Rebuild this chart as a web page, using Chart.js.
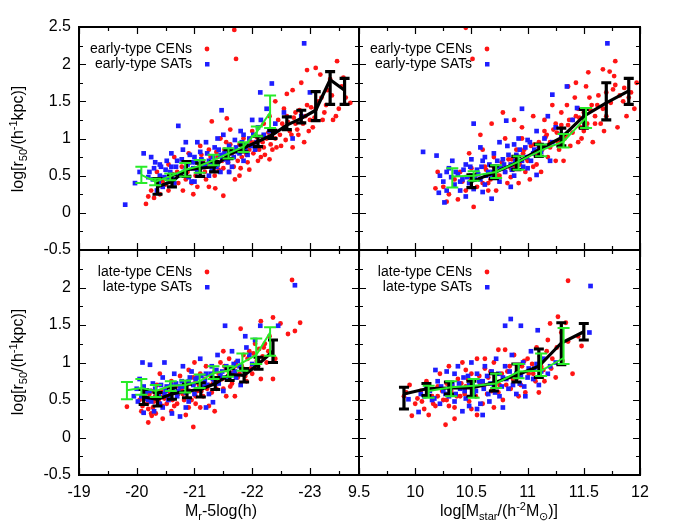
<!DOCTYPE html>
<html>
<head>
<meta charset="utf-8">
<script src="https://cdn.jsdelivr.net/npm/chart.js@4.4.0/dist/chart.umd.min.js"></script>
<style>
  html, body { margin: 0; padding: 0; background: #fff; }
  #wrap { position: relative; width: 680px; height: 531px; font-family: "Liberation Sans", Arial, sans-serif; color: #000; }
  #wrap canvas { position: absolute; left: 0; top: 0; }
  .atitle { position: absolute; font-size: 16px; line-height: 1; white-space: nowrap; transform: translate(-50%, -50%); }
  .atitle.rot { transform: translate(-50%, -50%) rotate(-90deg); }
  .atitle sub, .atitle sup { font-size: 11px; line-height: 0; }
</style>
</head>
<body>
<div id="wrap">
  <canvas id="c1" width="680" height="531"></canvas>
  <canvas id="c2" width="680" height="531"></canvas>
  <canvas id="c3" width="680" height="531"></canvas>
  <canvas id="c4" width="680" height="531"></canvas>
  <div class="atitle rot" style="left:18px; top:139px;">log[r<sub>50</sub>/(h<sup>-1</sup>kpc)]</div>
  <div class="atitle rot" style="left:18px; top:362px;">log[r<sub>50</sub>/(h<sup>-1</sup>kpc)]</div>
  <div class="atitle" style="left:221px; top:511px;">M<sub>r</sub>-5log(h)</div>
  <div class="atitle" style="left:499px; top:511px;">log[M<sub>star</sub>/(h<sup>-2</sup>M<sub>&#8857;</sub>)]</div>
</div>
<script>
// ---------- axes / ticks ----------
const yTicks = [-0.5, 0, 0.5, 1, 1.5, 2, 2.5];
const yMinor = [-0.25, 0.25, 0.75, 1.25, 1.75, 2.25];
const magTicks = [-19, -20, -21, -22, -23];
const magMinor = [-19.5, -20.5, -21.5, -22.5, -23.5];
const massTicks = [9.5, 10, 10.5, 11, 11.5, 12];
const massMinor = [9.75, 10.25, 10.75, 11.25, 11.75];
const magRange = [-23.85, -19];
const massRange = [9.5, 12];
const yRange = [-0.5, 2.5];

// ---------- early-type, magnitude (top left) ----------
const earlyCenMag = [
  [-21.69,2.46],[-21.72,2.07],[-23.47,2.04],[-23.18,1.86],[-22.95,1.92],[-23.10,1.95],[-23.35,1.80],[-23.55,1.70],
  [-23.62,1.55],[-23.50,1.40],[-23.70,1.48],[-23.40,1.25],[-23.25,1.35],[-23.05,1.15],[-22.85,1.75],[-22.70,1.65],
  [-22.60,1.60],[-22.95,1.45],[-22.75,1.35],[-22.55,1.40],[-22.40,1.50],[-22.45,1.25],[-22.30,1.30],[-22.20,1.20],
  [-22.65,1.10],[-22.90,0.95],[-22.50,0.90],[-22.35,0.85],[-22.15,0.75],[-22.00,1.10],[-21.95,0.85],[-21.80,0.60],
  [-21.70,0.45],[-21.55,0.95],[-21.45,1.00],[-21.30,1.23],[-21.56,1.27],[-21.50,0.60],[-21.35,0.50],[-21.20,0.45],
  [-21.36,0.33],[-21.05,0.35],[-20.90,0.80],[-20.95,0.40],[-20.80,0.30],[-20.70,0.55],[-20.55,0.30],[-20.45,0.42],
  [-20.40,0.25],[-20.30,0.20],[-20.25,0.30],[-20.35,0.55],[-20.55,0.65],[-20.65,0.75],[-20.85,0.45],[-21.00,0.60],
  [-21.15,0.70],[-21.25,0.85],[-21.40,0.75],[-21.65,0.80],[-21.75,0.70],[-21.85,1.00],[-22.05,0.95],[-22.10,0.70],
  [-22.25,1.00],[-22.40,1.00],[-22.55,1.15],[-22.75,1.20],[-22.80,1.05],[-23.00,1.25],[-23.20,1.55],[-23.30,1.65],
  [-20.16,0.12],[-20.20,0.22],[-20.60,0.45],[-21.10,0.90],[-21.60,0.55],[-21.90,0.78],[-22.20,0.88],[-22.60,1.30],
  [-23.10,1.40],[-21.78,0.50],[-21.50,0.23],
  [-20.50,0.38],[-20.62,0.52],[-20.72,0.40],[-20.78,0.62],[-20.88,0.55],[-20.92,0.68],[-21.02,0.50],[-21.08,0.62],
  [-21.12,0.78],[-21.18,0.55],[-21.22,0.65],[-21.28,0.75],[-21.32,0.62],[-21.38,0.82],[-21.42,0.58],[-21.48,0.70],
  [-21.52,0.85],[-21.58,0.68],[-21.62,0.92],[-21.68,0.62],[-21.72,0.85],[-21.78,0.92],[-21.82,0.75],[-21.88,0.88],
  [-21.92,0.68],[-21.98,0.95],[-22.02,0.80],[-22.08,1.02],[-22.12,0.85],[-22.18,0.95],[-22.22,0.78],[-22.28,1.08],
  [-22.32,0.92],[-22.38,1.12],[-22.42,0.88],[-22.48,1.05],[-22.52,1.20],[-22.58,0.98],[-22.62,1.22],[-22.68,1.05],
  [-22.72,1.28],[-22.78,1.12],[-22.82,1.38],[-22.88,1.20],[-22.92,1.30],[-22.98,1.10],[-23.02,1.42],[-23.08,1.28],
  [-23.15,1.50],[-23.22,1.25],[-23.28,1.45],[-23.38,1.58],[-23.45,1.30],[-23.58,1.82],[-21.95,0.58],[-22.30,0.72],
  [-21.25,0.35],[-20.98,0.25],[-22.70,0.88],[-21.62,1.12]
];
const earlySatMag = [
  [-22.90,2.28],[-22.34,1.74],[-22.14,1.62],[-21.47,1.38],[-20.72,1.17],[-20.12,0.80],[-19.80,0.11],[-19.97,0.40],
  [-20.05,0.55],[-20.20,0.48],[-20.30,0.60],[-20.40,0.50],[-20.45,0.35],[-20.50,0.58],[-20.60,0.62],[-20.65,0.40],
  [-20.70,0.70],[-20.75,0.52],[-20.80,0.85],[-20.85,0.60],[-20.90,0.48],[-20.95,0.68],[-21.00,0.75],[-21.05,0.55],
  [-21.10,0.82],[-21.15,0.62],[-21.20,0.95],[-21.25,0.70],[-21.30,0.58],[-21.35,0.88],[-21.40,0.65],[-21.45,0.78],
  [-21.50,1.05],[-21.55,0.72],[-21.60,0.90],[-21.65,0.62],[-21.70,0.98],[-21.75,0.82],[-21.80,1.10],[-21.85,0.70],
  [-21.90,0.92],[-21.95,1.00],[-22.00,1.25],[-22.05,0.85],[-22.10,1.15],[-22.20,1.05],[-22.25,1.40],[-22.40,1.20],
  [-22.55,1.35],[-22.70,1.00],[-22.85,1.30],[-23.00,1.62],[-20.35,0.30],[-20.55,0.45],[-21.00,0.42],[-21.25,0.50],
  [-21.60,0.55],[-20.25,0.75],[-20.85,0.95],[-21.40,1.00],
  [-20.22,0.55],[-20.28,0.45],[-20.32,0.68],[-20.38,0.40],[-20.42,0.62],[-20.48,0.48],[-20.52,0.70],[-20.58,0.55],
  [-20.62,0.45],[-20.68,0.62],[-20.72,0.50],[-20.78,0.72],[-20.82,0.55],[-20.88,0.65],[-20.92,0.78],[-20.98,0.60],
  [-21.02,0.68],[-21.08,0.58],[-21.12,0.72],[-21.18,0.65],[-21.22,0.80],[-21.28,0.68],[-21.32,0.75],[-21.38,0.62],
  [-21.42,0.85],[-21.48,0.72],[-21.52,0.80],[-21.58,0.68],[-21.62,0.85],[-21.68,0.75],[-21.72,0.88],[-21.78,0.80],
  [-21.82,0.95],[-21.88,0.85],[-21.92,0.78],[-21.98,0.90],[-22.02,1.05],[-22.08,0.95],[-22.15,1.25],[-22.30,1.10],
  [-20.60,0.80],[-21.05,0.95],[-21.45,0.55],[-20.95,0.42],[-20.40,0.65],[-21.85,1.05]
];
const earlyCenMagBin = [-20.36,-20.61,-20.86,-21.10,-21.34,-21.59,-21.85,-22.10,-22.35,-22.60,-22.85,-23.10,-23.35,-23.60];
const earlyCenMagMed = [0.35,0.42,0.58,0.60,0.62,0.78,0.87,0.96,1.05,1.18,1.27,1.38,1.79,1.65];
const earlyCenMagHi  = [0.46,0.51,0.69,0.67,0.69,0.85,0.91,1.03,1.11,1.29,1.38,1.63,1.90,1.81];
const earlyCenMagLo  = [0.25,0.35,0.49,0.49,0.55,0.73,0.82,0.89,1.00,1.12,1.21,1.24,1.46,1.46];
const earlySatMagBin = [-20.08,-20.32,-20.58,-20.84,-21.09,-21.33,-21.59,-21.85,-22.08,-22.31];
const earlySatMagMed = [0.51,0.42,0.49,0.58,0.63,0.71,0.80,0.89,1.09,1.35];
const earlySatMagHi  = [0.62,0.46,0.53,0.67,0.71,0.78,0.87,0.95,1.16,1.58];
const earlySatMagLo  = [0.40,0.37,0.44,0.49,0.54,0.64,0.73,0.82,1.03,1.14];

// ---------- early-type, stellar mass (top right) ----------
const earlyCenMass = [
  [10.45,2.49],[10.51,2.07],[11.78,2.04],[11.67,1.93],[11.73,1.90],[11.54,1.89],[11.43,1.75],[11.36,1.70],
  [11.77,1.84],[11.76,1.66],[11.85,1.50],[11.95,1.40],[11.88,1.30],[11.70,1.30],[11.62,1.45],[11.55,1.55],
  [11.60,1.20],[11.50,1.10],[11.45,1.40],[11.40,1.25],[11.35,1.05],[11.30,1.35],[11.25,1.20],[11.20,0.95],
  [11.15,1.10],[11.10,0.80],[11.05,1.30],[11.00,0.70],[10.95,1.15],[10.90,0.85],[10.85,0.60],[10.80,1.00],
  [10.75,0.50],[10.70,0.75],[10.65,0.40],[10.60,0.85],[10.55,0.35],[10.50,0.60],[10.45,0.30],[10.40,0.55],
  [10.35,0.45],[10.30,0.25],[10.25,0.35],[10.20,0.55],[10.18,0.33],[10.28,0.15],[10.38,0.18],[10.52,0.08],
  [10.48,0.80],[10.62,0.62],[10.72,0.30],[10.82,0.40],[10.88,0.62],[10.98,0.55],[11.08,0.65],[11.18,0.75],
  [11.28,0.85],[11.38,0.90],[11.48,1.00],[11.58,0.95],[11.68,1.10],[11.80,1.15],[11.90,1.55],[10.58,1.05],
  [10.68,1.20],[10.78,1.35],[10.88,1.25],[10.92,0.40],[11.02,0.45],[11.12,0.55],[11.22,1.45],[11.32,0.70],
  [11.42,1.55],[11.52,1.70],[10.66,0.52],[10.76,0.62],[10.86,0.72],[10.96,0.80],[11.06,0.92],[11.16,1.02],
  [11.26,1.08],[11.36,1.18],[11.46,1.28],[11.56,1.38],
  [10.42,0.42],[10.50,0.45],[10.55,0.52],[10.60,0.40],[10.63,0.58],[10.67,0.45],[10.70,0.62],[10.73,0.50],
  [10.77,0.68],[10.80,0.55],[10.83,0.72],[10.87,0.58],[10.90,0.75],[10.93,0.65],[10.97,0.85],[11.00,0.72],
  [11.03,0.90],[11.07,0.78],[11.10,0.95],[11.13,0.85],[11.17,1.05],[11.20,0.88],[11.23,1.12],[11.27,0.95],
  [11.30,1.18],[11.33,1.00],[11.37,1.25],[11.40,1.08],[11.43,1.30],[11.47,1.15],[11.50,1.35],[11.53,1.20],
  [11.57,1.45],[11.60,1.30],[11.63,1.58],[11.67,1.40],[11.70,1.62],[11.74,1.48],[11.78,1.72],[11.82,1.58],
  [11.86,1.68],[11.92,1.62],[11.97,1.75],[11.65,1.20],[11.45,0.95],[11.25,0.70],[11.05,0.62],[10.85,0.48],
  [10.65,0.30],[11.15,1.25],[11.35,1.45],[10.95,1.00]
];
const earlySatMass = [
  [11.71,2.28],[10.07,0.82],[10.19,0.77],[10.21,0.27],[10.26,0.14],[10.52,1.20],[10.81,1.24],[10.95,1.40],
  [11.22,1.59],[11.35,1.70],[11.44,1.41],[10.68,0.19],[11.08,0.51],[10.22,0.50],[10.25,0.42],[10.30,0.60],
  [10.35,0.38],[10.38,0.52],[10.42,0.45],[10.45,0.65],[10.48,0.40],[10.50,0.50],[10.52,0.32],[10.55,0.58],
  [10.58,0.45],[10.60,0.70],[10.62,0.38],[10.65,0.55],[10.68,0.48],[10.70,0.80],[10.72,0.62],[10.75,0.42],
  [10.78,0.72],[10.80,0.55],[10.82,0.90],[10.85,0.65],[10.88,0.50],[10.90,0.78],[10.92,1.00],[10.95,0.70],
  [10.98,0.88],[11.00,0.60],[11.02,0.95],[11.05,0.80],[11.08,1.10],[11.10,0.90],[11.15,1.00],[11.18,1.30],
  [11.25,1.15],[11.30,1.05],[11.40,1.25],[10.40,0.30],[10.60,0.28],[10.85,0.35],[10.33,0.70],[10.58,0.88],
  [11.20,0.70],[10.28,0.30],[10.45,0.22],[10.75,0.95],
  [10.32,0.48],[10.36,0.55],[10.40,0.42],[10.43,0.58],[10.46,0.48],[10.49,0.62],[10.53,0.45],[10.56,0.52],
  [10.59,0.62],[10.63,0.50],[10.66,0.65],[10.69,0.55],[10.73,0.70],[10.76,0.60],[10.79,0.65],[10.83,0.78],
  [10.86,0.58],[10.89,0.70],[10.93,0.85],[10.96,0.62],[10.99,0.75],[11.03,0.70],[11.06,0.85],[11.12,0.82],
  [11.16,0.90],[11.22,0.95],[10.50,0.72],[10.70,0.48],[10.88,0.92],[11.00,0.98],[10.28,0.55],[10.62,0.75]
];
const earlyCenMassBin = [10.5,10.7,10.9,11.1,11.3,11.5,11.7,11.9];
const earlyCenMassMed = [0.42,0.54,0.67,0.85,1.01,1.30,1.48,1.64];
const earlyCenMassHi  = [0.51,0.63,0.76,0.92,1.14,1.39,1.75,1.81];
const earlyCenMassLo  = [0.34,0.46,0.58,0.76,0.90,1.14,1.25,1.46];
const earlySatMassBin = [10.33,10.52,10.72,10.92,11.12,11.32,11.52];
const earlySatMassMed = [0.49,0.50,0.55,0.69,0.84,0.96,1.28];
const earlySatMassHi  = [0.60,0.56,0.64,0.76,0.92,1.06,1.41];
const earlySatMassLo  = [0.34,0.43,0.47,0.58,0.76,0.88,1.14];

// ---------- late-type, magnitude (bottom left) ----------
const lateCenMag = [
  [-22.69,2.10],[-22.83,1.53],[-22.74,1.42],[-22.62,1.38],[-22.36,1.60],[-22.49,1.52],[-21.80,1.45],[-22.36,0.78],
  [-22.15,0.78],[-20.98,0.14],[-19.83,0.41],[-20.26,0.29],[-20.33,0.32],[-20.10,0.42],[-20.05,0.50],[-20.15,0.55],
  [-20.20,0.38],[-20.25,0.62],[-20.30,0.48],[-20.35,0.70],[-20.40,0.55],[-20.45,0.42],[-20.50,0.65],[-20.55,0.52],
  [-20.60,0.75],[-20.65,0.60],[-20.70,0.45],[-20.75,0.82],[-20.80,0.58],[-20.85,0.68],[-20.90,0.90],[-20.95,0.50],
  [-21.00,0.72],[-21.05,0.62],[-21.10,0.85],[-21.15,0.55],[-21.20,0.95],[-21.25,0.70],[-21.30,0.60],[-21.35,0.88],
  [-21.40,0.75],[-21.45,1.00],[-21.50,0.65],[-21.55,0.90],[-21.60,1.05],[-21.65,0.72],[-21.70,0.95],[-21.75,0.80],
  [-21.85,1.10],[-21.90,0.75],[-21.95,1.15],[-22.00,0.85],[-22.05,1.25],[-22.10,0.95],[-22.20,1.20],[-22.25,1.00],
  [-22.30,1.35],[-20.45,0.25],[-20.20,0.20],[-21.10,0.40],[-21.70,0.55],[-20.60,0.35],[-21.25,0.42],[-20.85,0.30],
  [-21.00,1.00],[-21.50,1.15],[-20.40,0.85],[-22.15,1.55],[-21.35,0.35],[-20.90,0.40],
  [-20.08,0.35],[-20.12,0.52],[-20.18,0.45],[-20.22,0.58],[-20.28,0.40],[-20.32,0.55],[-20.38,0.48],[-20.42,0.62],
  [-20.48,0.52],[-20.52,0.45],[-20.58,0.60],[-20.62,0.50],[-20.68,0.68],[-20.72,0.58],[-20.78,0.65],[-20.82,0.50],
  [-20.88,0.72],[-20.92,0.62],[-20.98,0.80],[-21.02,0.55],[-21.08,0.70],[-21.12,0.62],[-21.18,0.78],[-21.22,0.65],
  [-21.28,0.82],[-21.32,0.72],[-21.38,0.65],[-21.42,0.85],[-21.48,0.78],[-21.52,0.95],[-21.58,0.82],[-21.62,0.68],
  [-21.68,0.88],[-21.72,1.00],[-21.78,0.85],[-21.82,0.95],[-21.88,0.82],[-21.92,1.05],[-21.98,0.92],[-22.02,1.12],
  [-22.08,1.02],[-22.12,1.18],[-22.18,1.08],[-22.22,1.25],[-22.28,1.15],[-21.02,0.45],[-21.55,0.55],[-20.65,0.42],
  [-20.25,0.32],[-22.40,1.05]
];
const lateSatMag = [
  [-22.74,2.03],[-21.53,1.49],[-22.14,1.49],[-21.88,1.35],[-22.45,1.49],[-20.10,1.00],[-20.23,0.97],[-20.48,1.00],
  [-20.61,0.32],[-20.12,0.33],[-21.32,0.47],[-20.85,0.40],[-19.95,0.55],[-20.00,0.65],[-20.05,0.78],[-20.15,0.60],
  [-20.20,0.50],[-20.28,0.72],[-20.35,0.58],[-20.40,0.45],[-20.45,0.80],[-20.50,0.62],[-20.55,0.50],[-20.60,0.70],
  [-20.65,0.85],[-20.70,0.55],[-20.75,0.68],[-20.80,0.95],[-20.85,0.60],[-20.90,0.75],[-20.95,0.88],[-21.00,0.58],
  [-21.05,0.80],[-21.10,1.05],[-21.15,0.68],[-21.20,0.85],[-21.25,0.58],[-21.30,0.95],[-21.35,0.75],[-21.40,1.10],
  [-21.45,0.82],[-21.50,0.62],[-21.55,0.95],[-21.60,0.78],[-21.65,1.15],[-21.70,0.88],[-21.75,1.02],[-21.80,0.70],
  [-21.90,1.20],[-22.00,0.98],[-22.05,1.30],[-20.30,0.35],[-20.75,0.28],[-21.20,0.40],
  [-20.02,0.48],[-20.08,0.55],[-20.12,0.68],[-20.18,0.52],[-20.22,0.62],[-20.25,0.48],[-20.32,0.65],[-20.38,0.55],
  [-20.42,0.70],[-20.48,0.58],[-20.52,0.68],[-20.58,0.55],[-20.62,0.62],[-20.68,0.72],[-20.72,0.62],[-20.78,0.75],
  [-20.82,0.68],[-20.88,0.62],[-20.92,0.80],[-20.98,0.70],[-21.02,0.78],[-21.08,0.65],[-21.12,0.82],[-21.18,0.75],
  [-21.22,0.70],[-21.28,0.85],[-21.32,0.78],[-21.38,0.90],[-21.42,0.72],[-21.48,0.88],[-21.52,0.80],[-21.58,0.92],
  [-21.62,0.85],[-21.68,0.98],[-21.72,0.80],[-21.78,0.95],[-21.85,0.90],[-21.95,1.10],[-20.45,0.40],[-20.90,0.48]
];
const lateCenMagBin = [-20.12,-20.36,-20.61,-20.87,-21.11,-21.36,-21.61,-21.86,-22.11,-22.36];
const lateCenMagMed = [0.54,0.51,0.58,0.62,0.64,0.72,0.84,0.83,0.98,1.15];
const lateCenMagHi  = [0.64,0.60,0.66,0.71,0.73,0.80,0.92,0.92,1.07,1.30];
const lateCenMagLo  = [0.44,0.42,0.51,0.53,0.54,0.64,0.76,0.74,0.91,1.00];
const lateSatMagBin = [-19.83,-20.08,-20.33,-20.59,-20.84,-21.09,-21.33,-21.58,-21.83,-22.07,-22.31];
const lateSatMagMed = [0.63,0.66,0.62,0.69,0.70,0.75,0.86,0.89,1.00,1.10,1.40];
const lateSatMagHi  = [0.74,0.78,0.70,0.75,0.76,0.84,0.95,0.95,1.12,1.32,1.47];
const lateSatMagLo  = [0.51,0.57,0.54,0.62,0.60,0.66,0.78,0.81,0.89,0.98,1.09];

// ---------- late-type, stellar mass (bottom right) ----------
const lateCenMass = [
  [11.36,2.09],[10.27,0.17],[11.27,1.61],[11.20,1.52],[11.34,1.53],[11.48,1.22],[9.97,0.29],[10.80,1.17],
  [10.74,1.17],[10.62,1.05],[9.90,0.55],[9.95,0.70],[10.00,0.45],[10.05,0.62],[10.08,0.38],[10.10,0.75],
  [10.15,0.55],[10.18,0.42],[10.20,0.68],[10.22,0.85],[10.25,0.50],[10.30,0.95],[10.32,0.62],[10.35,0.40],
  [10.38,0.78],[10.40,0.55],[10.42,1.00],[10.45,0.68],[10.48,0.48],[10.50,0.85],[10.52,0.58],[10.55,1.05],
  [10.58,0.72],[10.60,0.45],[10.65,0.80],[10.68,0.62],[10.70,1.00],[10.75,0.70],[10.78,0.50],[10.82,0.88],
  [10.85,0.65],[10.88,1.10],[10.90,0.78],[10.95,0.95],[10.98,0.60],[11.00,1.05],[11.05,0.85],[11.08,1.20],
  [11.12,0.95],[11.15,0.75],[11.18,1.30],[11.22,1.05],[11.25,0.80],[11.30,1.40],[10.12,0.30],[10.35,0.25],
  [10.55,0.30],[10.45,0.90],[10.62,0.92],[10.28,0.72],[10.92,0.55],[11.40,0.85],[11.10,0.60],[9.92,0.60],
  [10.02,0.52],[10.06,0.48],[10.12,0.62],[10.16,0.45],[10.20,0.55],[10.24,0.62],[10.28,0.50],[10.33,0.68],
  [10.37,0.55],[10.41,0.72],[10.44,0.58],[10.47,0.78],[10.51,0.65],[10.54,0.55],[10.57,0.82],[10.61,0.68],
  [10.64,0.58],[10.67,0.88],[10.71,0.72],[10.74,0.60],[10.77,0.85],[10.81,0.70],[10.84,0.95],[10.87,0.78],
  [10.91,0.92],[10.94,0.70],[10.97,1.02],[11.01,0.85],[11.04,0.98],[11.07,0.75],[11.11,1.08],[11.14,0.90],
  [11.17,1.15],[11.21,0.92],[11.26,1.20],[11.31,1.02],[11.36,1.28],[10.30,0.42],[10.70,0.40],[10.50,0.38],
  [11.45,1.35]
];
const lateSatMass = [
  [11.56,2.02],[10.85,1.58],[10.80,1.49],[10.94,1.49],[11.09,1.43],[11.55,1.40],[10.03,0.34],[9.94,0.51],
  [10.05,0.58],[10.10,0.65],[10.15,0.50],[10.20,0.75],[10.22,0.45],[10.25,0.62],[10.28,0.88],[10.30,0.55],
  [10.33,0.72],[10.35,0.48],[10.38,0.95],[10.40,0.65],[10.43,0.80],[10.45,0.52],[10.48,0.70],[10.50,1.00],
  [10.52,0.60],[10.55,0.85],[10.58,0.45],[10.60,0.75],[10.62,0.95],[10.65,0.58],[10.68,0.88],[10.70,0.68],
  [10.72,1.05],[10.75,0.55],[10.78,0.80],[10.80,0.95],[10.83,0.65],[10.86,1.10],[10.90,0.85],[10.93,0.72],
  [10.96,1.00],[11.00,0.80],[11.03,1.15],[11.06,0.92],[11.10,0.70],[11.14,1.05],[11.18,0.85],[11.25,1.00],
  [10.42,0.35],[10.60,0.30],[10.78,0.40],[10.55,0.38],[10.98,0.55],[10.18,0.90],
  [10.08,0.55],[10.13,0.62],[10.17,0.52],[10.23,0.68],[10.27,0.58],[10.31,0.65],[10.36,0.58],[10.39,0.72],
  [10.44,0.62],[10.47,0.82],[10.51,0.70],[10.54,0.62],[10.57,0.75],[10.61,0.65],[10.64,0.82],[10.67,0.72],
  [10.71,0.60],[10.74,0.85],[10.77,0.68],[10.81,0.78],[10.84,0.88],[10.87,0.70],[10.91,0.95],[10.94,0.82],
  [10.97,0.68],[11.01,0.92],[11.05,0.78],[11.08,0.98],[11.12,0.88],[11.20,0.95],[10.48,0.42],[10.66,0.48],
  [10.90,0.58],[10.35,0.85]
];
const lateCenMassBin = [9.9,10.1,10.3,10.5,10.7,10.9,11.1,11.3,11.5];
const lateCenMassMed = [0.58,0.65,0.66,0.66,0.73,0.83,0.95,1.26,1.41];
const lateCenMassHi  = [0.67,0.72,0.74,0.75,0.85,0.98,1.18,1.53,1.52];
const lateCenMassLo  = [0.38,0.56,0.58,0.55,0.62,0.74,0.80,0.97,1.30];
const lateSatMassBin = [10.12,10.32,10.52,10.72,10.92,11.12,11.32];
const lateSatMassMed = [0.62,0.67,0.69,0.72,0.88,0.89,1.06];
const lateSatMassHi  = [0.69,0.75,0.78,0.85,0.98,1.12,1.46];
const lateSatMassLo  = [0.53,0.55,0.53,0.66,0.79,0.82,0.98];

// ---------- styling ----------
const FONT = '"Liberation Sans", Arial, sans-serif';
const RED = 'rgb(255, 20, 20)';
const BLUE = 'rgb(30, 30, 255)';
const GREEN = 'rgb(40, 235, 40)';
const BLACK = '#000';
const W = 680, H = 531;

function toXY(pairs) {
    return pairs.map(p => ({ x: p[0], y: p[1] }));
}

function medianSet(xs, med, lo, hi, color, lw, cap) {
    return {
        data: xs.map((x, i) => ({ x: x, y: med[i] })),
        showLine: true,
        borderColor: color,
        backgroundColor: color,
        borderWidth: lw,
        pointRadius: 0,
        errLo: lo,
        errHi: hi,
        capHalf: cap
    };
}

// error bars drawn right after their own dataset, so layering follows dataset order
const errorBarPlugin = {
    id: 'errorBars',
    afterDatasetDraw(chart, args) {
        const ds = chart.data.datasets[args.index];
        if (!ds.errLo) return;
        const xs = chart.scales.x, ys = chart.scales.y, ctx = chart.ctx;
        ctx.save();
        ctx.strokeStyle = ds.borderColor;
        ctx.lineWidth = ds.borderWidth;
        ctx.beginPath();
        ds.data.forEach((p, i) => {
            const px = xs.getPixelForValue(p.x);
            const yl = ys.getPixelForValue(ds.errLo[i]);
            const yh = ys.getPixelForValue(ds.errHi[i]);
            ctx.moveTo(px, yl); ctx.lineTo(px, yh);
            ctx.moveTo(px - ds.capHalf, yl); ctx.lineTo(px + ds.capHalf, yl);
            ctx.moveTo(px - ds.capHalf, yh); ctx.lineTo(px + ds.capHalf, yh);
        });
        ctx.stroke();
        ctx.restore();
    }
};

// border + inward ticks on all four sides (gnuplot style)
function framePlugin(p) {
    return {
        id: 'frame',
        afterDraw(chart) {
            const ctx = chart.ctx, a = chart.chartArea;
            const xs = chart.scales.x, ys = chart.scales.y;
            ctx.save();
            ctx.strokeStyle = '#000';
            ctx.lineWidth = 1.2;
            ctx.beginPath();
            const tx = (v, len) => {
                const px = Math.round(xs.getPixelForValue(v)) + 0.5;
                ctx.moveTo(px, a.bottom); ctx.lineTo(px, a.bottom - len);
                ctx.moveTo(px, a.top); ctx.lineTo(px, a.top + len);
            };
            const ty = (v, len) => {
                const py = Math.round(ys.getPixelForValue(v)) + 0.5;
                ctx.moveTo(a.left, py); ctx.lineTo(a.left + len, py);
                ctx.moveTo(a.right, py); ctx.lineTo(a.right - len, py);
            };
            p.xTicks.forEach(v => tx(v, 7));
            p.xMinor.forEach(v => tx(v, 4));
            yTicks.forEach(v => ty(v, 7));
            yMinor.forEach(v => ty(v, 4));
            ctx.stroke();
            ctx.lineWidth = 2;
            ctx.strokeRect(a.left, a.top, a.right - a.left, a.bottom - a.top);
            ctx.restore();
        }
    };
}

function legendPlugin(p) {
    return {
        id: 'keyBox',
        afterDraw(chart) {
            const ctx = chart.ctx, a = chart.chartArea;
            ctx.save();
            ctx.font = '14px ' + FONT;
            ctx.fillStyle = '#000';
            ctx.textAlign = 'right';
            ctx.textBaseline = 'middle';
            ctx.fillText(p.label + ' CENs', a.left + 113, a.top + 22);
            ctx.fillText(p.label + ' SATs', a.left + 113, a.top + 37);
            ctx.fillStyle = RED;
            ctx.beginPath();
            ctx.arc(a.left + 128, a.top + 22, 2.4, 0, Math.PI * 2);
            ctx.fill();
            ctx.fillStyle = BLUE;
            ctx.fillRect(a.left + 126, a.top + 35, 4.5, 4.5);
            ctx.restore();
        }
    };
}

function panel(id, p) {
    new Chart(document.getElementById(id), {
        type: 'scatter',
        data: {
            datasets: [
                medianSet(p.satBin, p.satMed, p.satLo, p.satHi, GREEN, 2, 6),
                medianSet(p.cenBin, p.cenMed, p.cenLo, p.cenHi, BLACK, 3.2, 5),
                { data: toXY(p.sats), pointStyle: 'rect', pointRadius: 3.3, backgroundColor: BLUE, borderWidth: 0 },
                { data: toXY(p.cens), pointStyle: 'circle', pointRadius: 2.4, backgroundColor: RED, borderWidth: 0 }
            ]
        },
        options: {
            responsive: false,
            animation: false,
            devicePixelRatio: 1,
            layout: { padding: { top: p.top, right: W - p.right, left: 0, bottom: 0 } },
            plugins: { legend: { display: false }, tooltip: { enabled: false } },
            scales: {
                x: {
                    type: 'linear',
                    position: 'bottom',
                    min: p.xRange[0],
                    max: p.xRange[1],
                    reverse: p.reverse,
                    grid: { display: false, drawTicks: false },
                    border: { display: false },
                    afterBuildTicks: s => { s.ticks = p.xTicks.map(v => ({ value: v })); },
                    afterFit: s => { s.height = H - p.bottom; },
                    ticks: {
                        display: p.showX,
                        autoSkip: false,
                        maxRotation: 0,
                        padding: 8,
                        color: '#000',
                        font: { family: FONT, size: 16 },
                        callback: v => String(v)
                    }
                },
                y: {
                    type: 'linear',
                    position: 'left',
                    min: yRange[0],
                    max: yRange[1],
                    grid: { display: false, drawTicks: false },
                    border: { display: false },
                    afterBuildTicks: s => { s.ticks = yTicks.map(v => ({ value: v })); },
                    afterFit: s => { s.width = p.left; },
                    ticks: {
                        display: p.showY,
                        autoSkip: false,
                        padding: 8,
                        color: '#000',
                        font: { family: FONT, size: 16 },
                        callback: v => (p.hideTop && v === 2.5) ? '' : String(v)
                    }
                }
            }
        },
        plugins: [errorBarPlugin, framePlugin(p), legendPlugin(p)]
    });
}

document.addEventListener('DOMContentLoaded', function() {
    panel('c1', {
        left: 79, right: 359, top: 27, bottom: 250, xRange: magRange, reverse: true,
        xTicks: magTicks, xMinor: magMinor, showX: false, showY: true, hideTop: false, label: 'early-type',
        cens: earlyCenMag, sats: earlySatMag,
        cenBin: earlyCenMagBin, cenMed: earlyCenMagMed, cenLo: earlyCenMagLo, cenHi: earlyCenMagHi,
        satBin: earlySatMagBin, satMed: earlySatMagMed, satLo: earlySatMagLo, satHi: earlySatMagHi
    });
    panel('c2', {
        left: 359, right: 640, top: 27, bottom: 250, xRange: massRange, reverse: false,
        xTicks: massTicks, xMinor: massMinor, showX: false, showY: false, hideTop: false, label: 'early-type',
        cens: earlyCenMass, sats: earlySatMass,
        cenBin: earlyCenMassBin, cenMed: earlyCenMassMed, cenLo: earlyCenMassLo, cenHi: earlyCenMassHi,
        satBin: earlySatMassBin, satMed: earlySatMassMed, satLo: earlySatMassLo, satHi: earlySatMassHi
    });
    panel('c3', {
        left: 79, right: 359, top: 250, bottom: 475, xRange: magRange, reverse: true,
        xTicks: magTicks, xMinor: magMinor, showX: true, showY: true, hideTop: true, label: 'late-type',
        cens: lateCenMag, sats: lateSatMag,
        cenBin: lateCenMagBin, cenMed: lateCenMagMed, cenLo: lateCenMagLo, cenHi: lateCenMagHi,
        satBin: lateSatMagBin, satMed: lateSatMagMed, satLo: lateSatMagLo, satHi: lateSatMagHi
    });
    panel('c4', {
        left: 359, right: 640, top: 250, bottom: 475, xRange: massRange, reverse: false,
        xTicks: massTicks, xMinor: massMinor, showX: true, showY: false, hideTop: false, label: 'late-type',
        cens: lateCenMass, sats: lateSatMass,
        cenBin: lateCenMassBin, cenMed: lateCenMassMed, cenLo: lateCenMassLo, cenHi: lateCenMassHi,
        satBin: lateSatMassBin, satMed: lateSatMassMed, satLo: lateSatMassLo, satHi: lateSatMassHi
    });
});
</script>
</body>
</html>
